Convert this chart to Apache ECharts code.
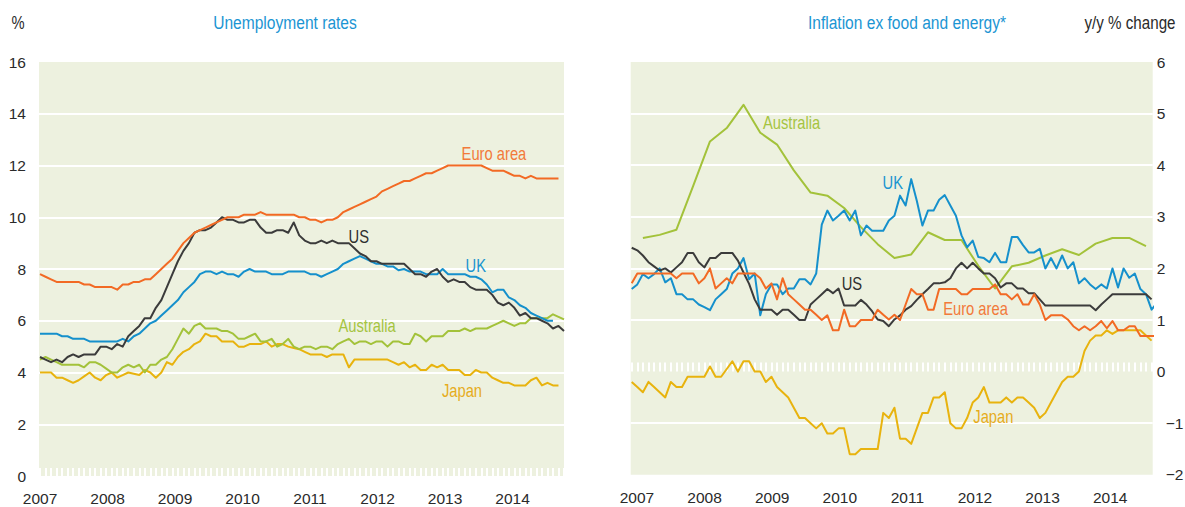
<!DOCTYPE html>
<html>
<head>
<meta charset="utf-8">
<script src="https://cdn.jsdelivr.net/npm/echarts@6.0.0/dist/echarts.min.js"></script>
<style>
html,body{margin:0;padding:0;background:#ffffff;}
#chart{width:1185px;height:507px;}
</style>
</head>
<body>
<div id="chart"></div>
<script>
// ---------------- DATA ----------------
const yearLabels = [2007, 2008, 2009, 2010, 2011, 2012, 2013, 2014];

// Unemployment rates, %, monthly from Jan 2007
const unempEuroArea = [
  7.8,7.7,7.6,7.5,7.5,7.5,7.5,7.5,7.4,7.4,7.3,7.3,
  7.3,7.3,7.2,7.4,7.4,7.5,7.5,7.6,7.6,7.8,8.0,8.2,
  8.4,8.7,9.0,9.2,9.4,9.5,9.6,9.7,9.8,9.9,10.0,10.0,
  10.0,10.1,10.1,10.1,10.2,10.1,10.1,10.1,10.1,10.1,10.1,10.0,
  10.0,9.9,9.9,9.8,9.9,9.9,10.0,10.2,10.3,10.4,10.5,10.6,
  10.7,10.8,11.0,11.1,11.2,11.3,11.4,11.4,11.5,11.6,11.7,11.7,
  11.8,11.9,12.0,12.0,12.0,12.0,12.0,12.0,12.0,11.9,11.8,11.8,
  11.8,11.7,11.6,11.6,11.5,11.6,11.5,11.5,11.5,11.5,11.5
];
const unempUS = [
  4.6,4.5,4.4,4.5,4.4,4.6,4.7,4.6,4.7,4.7,4.7,5.0,
  5.0,4.9,5.1,5.0,5.4,5.6,5.8,6.1,6.1,6.5,6.8,7.3,
  7.8,8.3,8.7,9.0,9.4,9.5,9.5,9.6,9.8,10.0,9.9,9.9,
  9.8,9.8,9.9,9.9,9.6,9.4,9.4,9.5,9.5,9.4,9.8,9.3,
  9.1,9.0,9.0,9.1,9.0,9.1,9.0,9.0,9.0,8.8,8.6,8.5,
  8.3,8.3,8.2,8.2,8.2,8.2,8.2,8.0,7.8,7.8,7.7,7.9,
  8.0,7.7,7.5,7.6,7.5,7.5,7.3,7.2,7.2,7.2,7.0,6.7,
  6.6,6.7,6.5,6.2,6.3,6.1,6.1,6.0,5.9,5.7,5.8,5.6
];
const unempUK = [
  5.5,5.5,5.5,5.5,5.4,5.4,5.3,5.3,5.3,5.2,5.2,5.2,
  5.2,5.2,5.2,5.3,5.2,5.4,5.5,5.7,5.9,6.0,6.2,6.4,
  6.6,6.8,7.1,7.3,7.5,7.8,7.9,7.9,7.8,7.9,7.8,7.8,
  7.7,7.9,8.0,7.9,7.9,7.9,7.8,7.8,7.8,7.9,7.9,7.9,
  7.9,7.8,7.8,7.7,7.8,7.9,8.0,8.2,8.3,8.4,8.5,8.4,
  8.3,8.2,8.2,8.1,8.1,7.95,8.0,7.9,7.9,7.9,7.8,7.8,
  7.8,8.0,7.8,7.8,7.8,7.8,7.7,7.7,7.6,7.4,7.1,7.2,
  7.2,6.9,6.8,6.6,6.5,6.3,6.2,6.1,6.0,6.0
];
const unempAustralia = [
  4.5,4.6,4.5,4.4,4.3,4.3,4.3,4.3,4.2,4.4,4.4,4.3,
  4.15,4.0,4.0,4.2,4.3,4.2,4.3,4.0,4.3,4.3,4.5,4.6,
  4.9,5.3,5.7,5.5,5.8,5.9,5.7,5.7,5.7,5.6,5.6,5.5,
  5.3,5.3,5.4,5.5,5.2,5.2,5.3,5.0,5.1,5.3,5.0,4.9,
  5.0,5.0,4.9,5.0,5.0,4.9,5.1,5.2,5.3,5.1,5.2,5.2,
  5.1,5.2,5.2,5.0,5.2,5.2,5.1,5.1,5.5,5.4,5.2,5.4,
  5.4,5.4,5.6,5.6,5.6,5.7,5.6,5.7,5.7,5.7,5.8,5.9,
  6.0,5.9,5.8,5.9,5.9,6.1,6.1,6.1,6.1,6.25,6.15,6.05
];
const unempJapan = [
  4.0,4.0,4.0,3.8,3.8,3.7,3.6,3.7,3.85,4.0,3.8,3.7,
  3.9,4.0,3.8,3.9,4.0,3.95,3.9,4.1,4.0,3.8,4.0,4.4,
  4.3,4.6,4.8,4.9,5.1,5.2,5.5,5.4,5.4,5.2,5.2,5.2,
  5.0,5.0,5.1,5.1,5.1,5.2,5.0,5.1,5.1,5.0,4.95,4.9,
  4.8,4.7,4.7,4.7,4.6,4.7,4.7,4.7,4.2,4.5,4.5,4.5,
  4.5,4.5,4.5,4.5,4.4,4.3,4.4,4.2,4.3,4.1,4.1,4.3,
  4.2,4.3,4.1,4.1,4.1,3.9,3.9,4.1,4.0,4.0,3.8,3.7,
  3.6,3.6,3.5,3.5,3.5,3.7,3.8,3.5,3.6,3.5,3.5
];

// Inflation ex food and energy, y/y % change, monthly from Jan 2007
const inflEuroArea = [
  1.71,1.9,1.9,1.9,1.9,1.9,1.9,1.9,1.81,1.9,1.9,1.9,
  1.71,1.81,2.0,1.61,1.71,1.81,1.71,1.9,1.9,1.9,1.9,1.81,
  1.61,1.71,1.4,1.81,1.5,1.4,1.3,1.2,1.2,1.1,1.0,1.09,
  0.8,0.8,1.2,0.88,0.88,1.0,1.0,1.0,1.2,1.1,1.01,1.1,
  1.0,1.3,1.6,1.5,1.5,1.2,1.2,1.6,1.6,1.6,1.6,1.5,
  1.5,1.6,1.6,1.6,1.6,1.69,1.5,1.5,1.4,1.5,1.3,1.3,
  1.5,1.3,1.0,1.09,1.09,1.09,1.01,0.88,0.8,0.88,0.8,0.88,
  0.98,0.84,0.98,0.8,0.8,0.88,0.88,0.69,0.69,0.69,0.69
];
const inflUS = [
  2.4,2.35,2.25,2.12,2.04,1.96,2.0,1.92,2.02,2.12,2.3,2.3,
  2.12,2.02,2.2,2.2,2.3,2.3,2.3,2.15,1.92,1.7,1.4,1.2,
  1.2,1.2,1.1,1.2,1.2,1.1,1.0,1.0,1.3,1.4,1.5,1.6,
  1.52,1.61,1.28,1.28,1.28,1.39,1.3,1.17,1.01,0.98,0.88,1.01,
  1.09,1.2,1.27,1.39,1.5,1.6,1.71,1.71,1.73,1.81,2.0,2.11,
  2.0,2.11,2.0,1.9,1.9,1.81,1.63,1.71,1.71,1.61,1.61,1.52,
  1.52,1.4,1.28,1.28,1.28,1.28,1.28,1.28,1.28,1.28,1.28,1.19,
  1.3,1.4,1.5,1.5,1.5,1.5,1.5,1.5,1.5,1.4
];
const inflUK = [
  1.6,1.69,1.89,1.81,1.89,2.0,1.73,1.81,1.5,1.5,1.4,1.4,
  1.3,1.25,1.19,1.4,1.5,1.6,1.9,2.0,2.2,1.79,1.9,1.09,
  1.5,1.69,1.69,1.5,1.61,1.61,1.79,1.79,1.69,1.9,2.85,3.12,
  2.93,3.02,3.12,2.93,3.12,2.64,2.83,2.73,2.73,2.73,2.93,3.02,
  3.41,3.22,3.73,3.31,2.83,3.12,3.12,3.33,3.42,3.22,3.02,2.64,
  2.41,2.54,2.22,2.2,2.12,2.3,2.12,2.12,2.61,2.61,2.45,2.31,
  2.31,2.38,2.0,2.2,2.0,2.25,2.0,2.12,1.71,1.81,1.69,1.6,
  1.69,1.61,2.0,1.63,2.0,1.82,1.9,1.6,1.5,1.2,1.34
];
const inflJapan = [
  -0.2,-0.3,-0.4,-0.2,-0.3,-0.4,-0.5,-0.2,-0.3,-0.3,-0.1,-0.1,
  -0.1,-0.1,0.1,-0.1,-0.1,0.05,0.2,0.0,0.2,0.2,0.0,0.0,
  -0.2,-0.1,-0.3,-0.4,-0.5,-0.7,-0.9,-0.9,-1.0,-1.1,-1.0,-1.2,
  -1.2,-1.1,-1.1,-1.6,-1.6,-1.5,-1.5,-1.5,-1.5,-0.8,-0.9,-0.7,
  -1.3,-1.3,-1.4,-1.1,-0.8,-0.8,-0.5,-0.5,-0.4,-1.0,-1.1,-1.1,
  -0.9,-0.6,-0.5,-0.3,-0.6,-0.6,-0.6,-0.5,-0.6,-0.5,-0.5,-0.6,
  -0.7,-0.9,-0.8,-0.6,-0.4,-0.2,-0.1,-0.1,0.0,0.4,0.6,0.7,
  0.7,0.8,0.73,0.8,0.8,0.8,0.8,0.8,0.7,0.6
];
// Australia: quarterly, Q1 2007 .. Q3 2014 (plotted at quarter-end month)
const inflAustraliaQuarterly = [
  2.59,2.65,2.75,3.6,4.46,4.72,5.17,4.63,4.4,3.9,3.47,3.41,
  3.17,2.8,2.47,2.2,2.27,2.7,2.55,2.55,2.05,1.61,2.04,2.11,
  2.25,2.37,2.26,2.48,2.59,2.59,2.43
];

// ---------------- STYLE / LAYOUT ----------------
const FONT = "'Liberation Sans', Arial, sans-serif";
const AXIS_FS = 15.5;      // axis tick labels
const LABEL_FS = 18;       // series labels (drawn narrow)
const TITLE_FS = 19;       // titles (drawn narrow)
const NARROW = 0.82;       // horizontal squeeze to mimic a condensed face
const TXT = '#2a2a2a';
const BG = '#edf1df';
const COLORS = {
  'Euro area': '#f26a24',
  'US': '#3b3b3b',
  'UK': '#1590cc',
  'Australia': '#a3c23a',
  'Japan': '#e8b30e'
};
const LABEL_COLORS = {
  'Euro area': '#f27a3a',
  'US': '#2e2e2e',
  'UK': '#1a95d0',
  'Australia': '#a5c43f',
  'Japan': '#e6ac1c'
};
// label anchors in data units [month index, value]
const unempLabelAt = {'Euro area':[82.3,12.48],'US':[57.8,9.24],'UK':[79.0,8.12],'Australia':[59.3,5.8],'Japan':[76.5,3.32]};
const inflLabelAt = {'Australia':[28.6,4.83],'UK':[46.7,3.66],'US':[39.4,1.71],'Euro area':[61.5,1.22],'Japan':[64.7,-0.87]};

const monthly = arr => arr.map((v, i) => [i, v]);
const monthTicks = n => Array.from({length: n}, (_, i) => i);
const T = 'rgba(0,0,0,0)';

const chart = echarts.init(document.getElementById('chart'), null, {renderer: 'svg'});

function lineSeries(name, data, xi, yi) {
  return {
    name, type: 'line', data, xAxisIndex: xi, yAxisIndex: yi,
    symbol: 'none', showSymbol: false, clip: false, smooth: false,
    lineStyle: {color: COLORS[name], width: 2, join: 'round'},
    itemStyle: {color: COLORS[name]},
    emphasis: {disabled: true}, silent: true
  };
}

const option = {
  animation: false,
  backgroundColor: '#ffffff',
  textStyle: {fontFamily: FONT},
  grid: [
    {left: 39, top: 62, width: 525, height: 414, show: true, backgroundColor: BG, borderWidth: 0, containLabel: false, outerBoundsMode: 'none'},
    {left: 630.7, top: 62, width: 522, height: 412.8, show: true, backgroundColor: BG, borderWidth: 0, containLabel: false, outerBoundsMode: 'none'}
  ],
  xAxis: [
    { // left data axis (months), monthly hatch at zero
      gridIndex: 0, type: 'value', min: -0.18, max: 95, position: 'bottom',
      axisLine: {show: false, onZero: true},
      axisTick: {show: true, inside: true, length: 8, lineStyle: {color: '#ffffff', width: 2}, customValues: monthTicks(96)},
      axisLabel: {show: false}, splitLine: {show: false}
    },
    { // left year labels
      gridIndex: 0, type: 'value', min: 2006.985, max: 2014.763, position: 'bottom',
      axisLine: {show: false, onZero: false}, axisTick: {show: false}, splitLine: {show: false},
      axisLabel: {show: true, customValues: yearLabels, formatter: v => String(v), margin: 14,
        color: TXT, fontSize: AXIS_FS, fontFamily: FONT}
    },
    { // right data axis (months)
      gridIndex: 1, type: 'value', min: -0.18, max: 93.2, position: 'bottom',
      axisLine: {show: false, onZero: true},
      axisTick: {show: true, inside: true, length: 9, lineStyle: {color: '#ffffff', width: 2}, customValues: monthTicks(94)},
      axisLabel: {show: false}, splitLine: {show: false}
    },
    { // right year labels
      gridIndex: 1, type: 'value', min: 2006.907, max: 2014.629, position: 'bottom',
      axisLine: {show: false, onZero: false}, axisTick: {show: false}, splitLine: {show: false},
      axisLabel: {show: true, customValues: yearLabels, formatter: v => String(v), margin: 15,
        color: TXT, fontSize: AXIS_FS, fontFamily: FONT}
    }
  ],
  yAxis: [
    {
      gridIndex: 0, type: 'value', min: 0, max: 16, interval: 2, position: 'left',
      axisLine: {show: false}, axisTick: {show: false},
      axisLabel: {margin: 13, color: TXT, fontSize: AXIS_FS, fontFamily: FONT, padding: [0, 0, 5, 0]},
      splitLine: {show: true, lineStyle: {width: 2, color: [T,'#ffffff','#ffffff','#ffffff','#ffffff','#ffffff','#ffffff','#ffffff',T]}}
    },
    {
      gridIndex: 1, type: 'value', min: -2, max: 6, interval: 1, position: 'right',
      axisLine: {show: false}, axisTick: {show: false},
      axisLabel: {margin: 4, color: TXT, fontSize: AXIS_FS, fontFamily: FONT, align: 'left',
        formatter: v => v < 0 ? '{neg|\u2212' + Math.abs(v) + '}' : String(v),
        rich: {neg: {color: TXT, fontSize: AXIS_FS, fontFamily: FONT, padding: [0, 0, 0, 9]}}},
      splitLine: {show: true, lineStyle: {width: 2, color: [T,'#ffffff',T,'#ffffff','#ffffff','#ffffff','#ffffff','#ffffff',T]}}
    }
  ],
  series: [
    lineSeries('Japan', monthly(unempJapan), 0, 0),
    lineSeries('Australia', monthly(unempAustralia), 0, 0),
    lineSeries('UK', monthly(unempUK), 0, 0),
    lineSeries('US', monthly(unempUS), 0, 0),
    lineSeries('Euro area', monthly(unempEuroArea), 0, 0),

    lineSeries('Japan', monthly(inflJapan), 2, 1),
    lineSeries('Australia', inflAustraliaQuarterly.map((v, i) => [2 + 3 * i, v]), 2, 1),
    lineSeries('UK', monthly(inflUK), 2, 1),
    lineSeries('US', monthly(inflUS), 2, 1),
    lineSeries('Euro area', monthly(inflEuroArea), 2, 1)
  ]
};
chart.setOption(option);

function txt(x, y, text, color, size) {
  return {
    type: 'text', x, y, scaleX: NARROW, scaleY: 1, silent: true, z: 100,
    style: {text, fill: color, fontSize: size, fontFamily: FONT,
      align: 'center', verticalAlign: 'middle',
      textAlign: 'center', textVerticalAlign: 'middle'}
  };
}
const graphics = [
  txt(18, 22.5, '%', TXT, 18),
  txt(285, 22.5, 'Unemployment rates', '#1b95d3', TITLE_FS),
  txt(907, 22.5, 'Inflation ex food and energy*', '#1b95d3', TITLE_FS),
  txt(1130, 22.5, 'y/y % change', TXT, 18.5)
];
Object.keys(unempLabelAt).forEach(k => {
  const p = chart.convertToPixel({xAxisIndex: 0, yAxisIndex: 0}, unempLabelAt[k]);
  graphics.push(txt(p[0], p[1], k, LABEL_COLORS[k], LABEL_FS));
});
Object.keys(inflLabelAt).forEach(k => {
  const p = chart.convertToPixel({xAxisIndex: 2, yAxisIndex: 1}, inflLabelAt[k]);
  graphics.push(txt(p[0], p[1], k, LABEL_COLORS[k], LABEL_FS));
});
chart.setOption({graphic: {elements: graphics}});
</script>
</body>
</html>
